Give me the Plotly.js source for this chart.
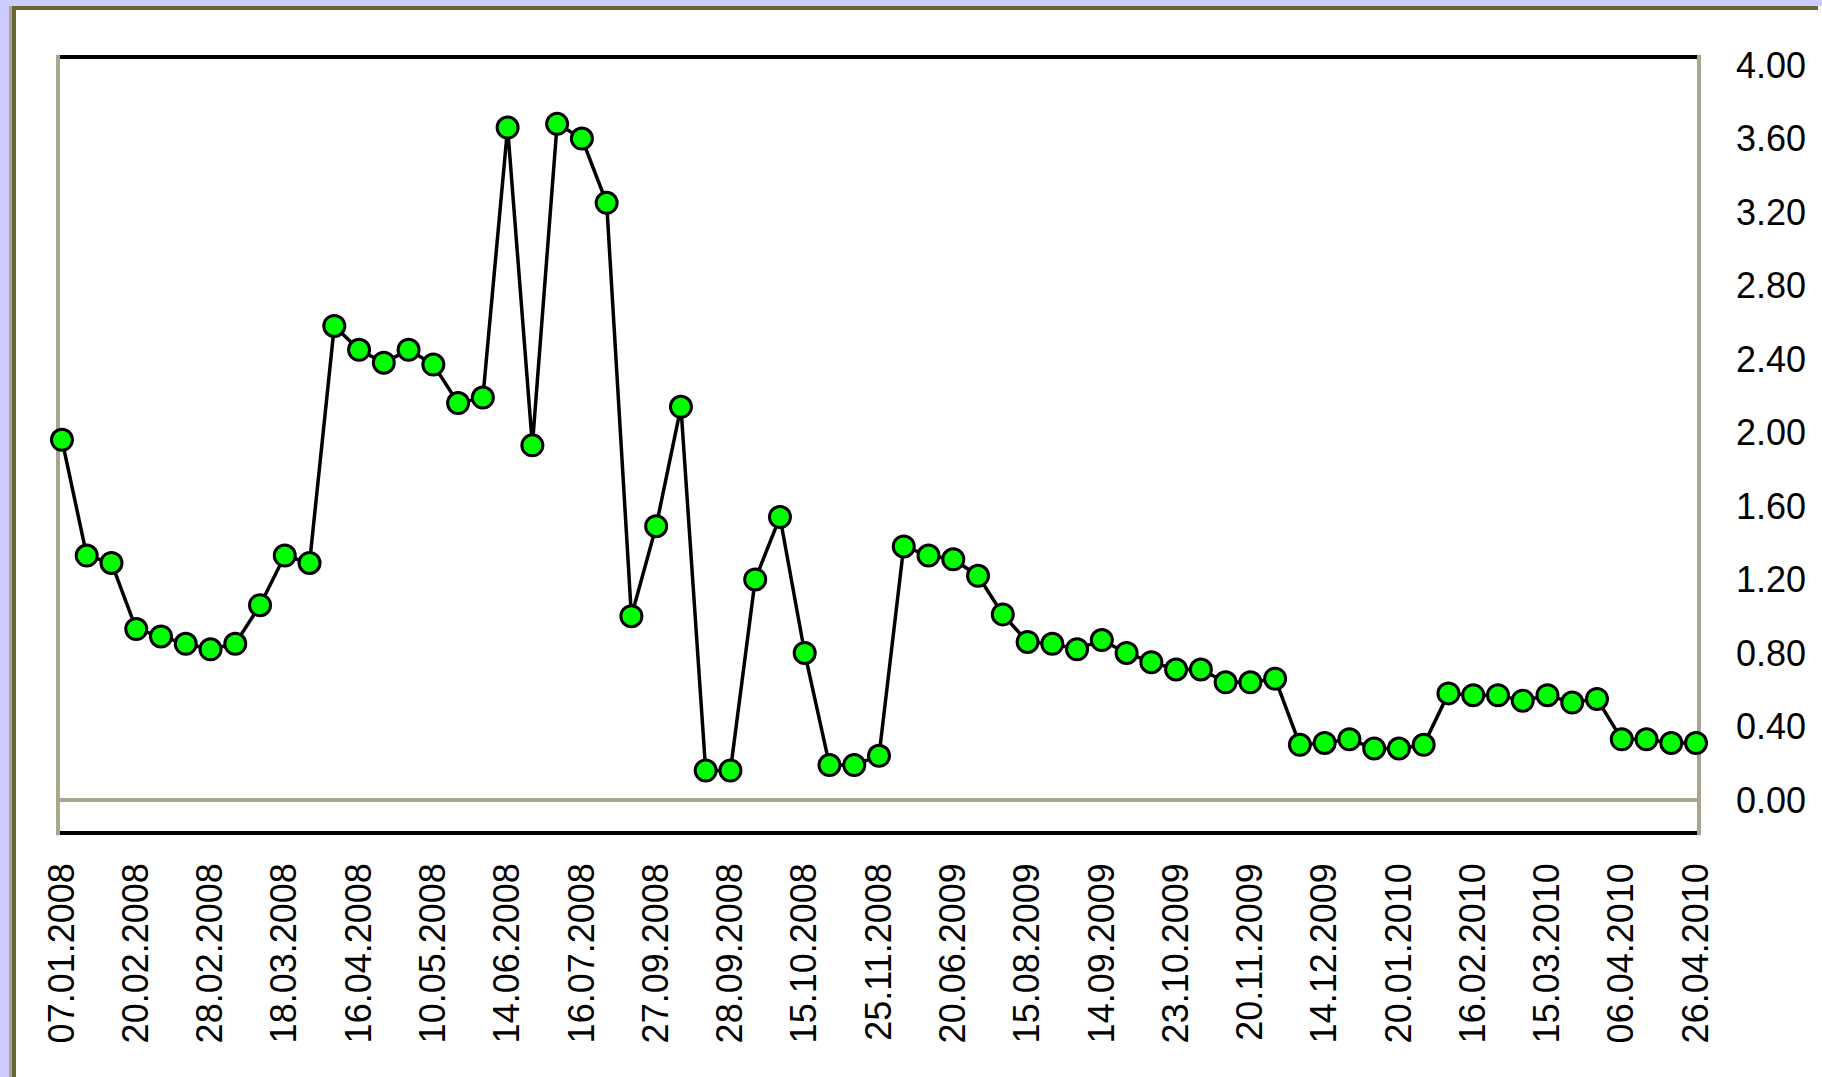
<!DOCTYPE html>
<html>
<head>
<meta charset="utf-8">
<script src="https://cdn.plot.ly/plotly-3.0.1.min.js"></script>
<style>
  html, body { margin: 0; padding: 0; width: 1822px; height: 1077px; overflow: hidden; background: #CCCCFF; }
  #panel { position: absolute; left: 9px; top: 6px; width: 1813px; height: 1071px; background: #FFFFFF; }
  #topline { position: absolute; left: 9px; top: 6px; width: 1809px; height: 4px; background: #666633; }
  #tanstripe { position: absolute; left: 9px; top: 6px; width: 3px; height: 1071px; background: #A9A58E; }
  #olivestripe { position: absolute; left: 12px; top: 6px; width: 4px; height: 1071px; background: #666633; }
  #chart { position: absolute; left: 0; top: 0; width: 1822px; height: 1077px; }
</style>
</head>
<body>
<div id="panel"></div>
<div id="topline"></div>
<div id="tanstripe"></div>
<div id="olivestripe"></div>
<div id="chart"></div>
<script>
// Tick labels shown under the x axis (one every third observation)
const dateLabels = [
  "07.01.2008", "20.02.2008", "28.02.2008", "18.03.2008", "16.04.2008", "10.05.2008",
  "14.06.2008", "16.07.2008", "27.09.2008", "28.09.2008", "15.10.2008", "25.11.2008",
  "20.06.2009", "15.08.2009", "14.09.2009", "23.10.2009", "20.11.2009", "14.12.2009",
  "20.01.2010", "16.02.2010", "15.03.2010", "06.04.2010", "26.04.2010"
];
const labelStep = 3;

// Series values
const seriesValues = [
  1.96, 1.33, 1.29, 0.93, 0.89, 0.85, 0.82, 0.85, 1.06, 1.33,
  1.29, 2.58, 2.45, 2.38, 2.45, 2.37, 2.16, 2.19, 3.66, 1.93,
  3.68, 3.60, 3.25, 1.00, 1.49, 2.14, 0.16, 0.16, 1.20, 1.54,
  0.80, 0.19, 0.19, 0.24, 1.38, 1.33, 1.31, 1.22, 1.01, 0.86,
  0.85, 0.82, 0.87, 0.80, 0.75, 0.71, 0.71, 0.64, 0.64, 0.66,
  0.30, 0.31, 0.33, 0.28, 0.28, 0.30, 0.58, 0.57, 0.57, 0.54,
  0.57, 0.53, 0.55, 0.33, 0.33, 0.31, 0.31
];

// Y axis tick values
const yTicks = [0, 0.4, 0.8, 1.2, 1.6, 2.0, 2.4, 2.8, 3.2, 3.6, 4.0];

const xIdx = seriesValues.map((_, i) => i);
const xTickVals = dateLabels.map((_, i) => i * labelStep);

const FONT = "Liberation Sans, Arial, sans-serif";
const TAN = "#A9A58E";

const trace = {
  type: "scatter",
  mode: "lines+markers",
  x: xIdx,
  y: seriesValues,
  line: { color: "#000000", width: 3.5 },
  marker: { color: "#00FF00", size: 21, line: { color: "#000000", width: 3 } },
  cliponaxis: false,
  hoverinfo: "skip",
  showlegend: false
};

const layout = {
  width: 1822,
  height: 1077,
  margin: { l: 58, r: 123, t: 57, b: 244, pad: 0 },
  paper_bgcolor: "rgba(0,0,0,0)",
  plot_bgcolor: "#FFFFFF",
  showlegend: false,
  font: { family: FONT, size: 36, color: "#000000" },
  xaxis: {
    type: "linear",
    range: [-0.16, 66.12],
    tickmode: "array",
    tickvals: xTickVals,
    ticktext: dateLabels,
    tickangle: -90,
    ticks: "",
    ticklabelstandoff: 22,
    showgrid: false,
    zeroline: false,
    showline: false,
    tickfont: { family: FONT, size: 36, color: "#000000" },
    fixedrange: true
  },
  yaxis: {
    side: "right",
    range: [-0.18, 4.044],
    tickmode: "array",
    tickvals: yTicks,
    ticktext: yTicks.map(v => v.toFixed(2)),
    ticks: "",
    ticklabelstandoff: 36,
    showgrid: false,
    zeroline: false,
    showline: false,
    tickfont: { family: FONT, size: 36, color: "#000000" },
    fixedrange: true
  },
  shapes: [
    // zero line
    { type: "line", xref: "paper", yref: "y", x0: 0, x1: 1, y0: 0, y1: 0,
      line: { color: TAN, width: 4 }, layer: "below" },
    // top border (black)
    { type: "line", xref: "paper", yref: "paper", x0: 0, x1: 1, y0: 1, y1: 1,
      line: { color: "#000000", width: 4 }, layer: "below" },
    // bottom border (black)
    { type: "line", xref: "paper", yref: "paper", x0: 0, x1: 1, y0: 0, y1: 0,
      line: { color: "#000000", width: 4 }, layer: "below" },
    // left border (tan)
    { type: "line", xref: "paper", yref: "paper", x0: 0, x1: 0, y0: -0.003, y1: 1.003,
      line: { color: TAN, width: 4 }, layer: "below" },
    // right border (tan)
    { type: "line", xref: "paper", yref: "paper", x0: 1, x1: 1, y0: -0.003, y1: 1.003,
      line: { color: TAN, width: 4 }, layer: "below" }
  ]
};

Plotly.newPlot("chart", [trace], layout, { displayModeBar: false, staticPlot: true });
</script>
</body>
</html>
